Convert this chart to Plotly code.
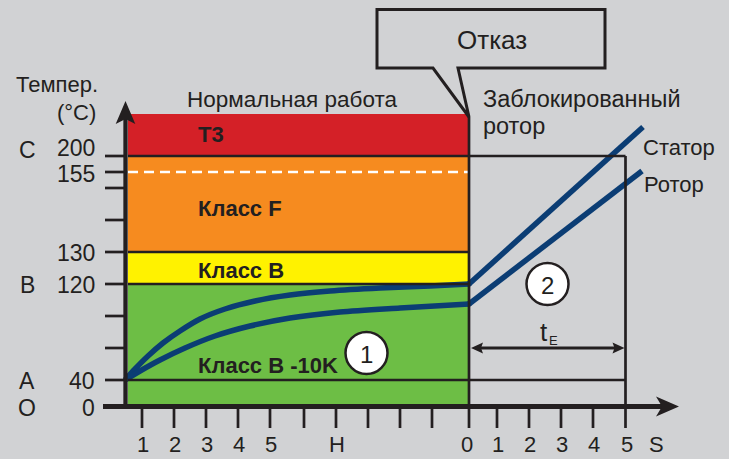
import plotly.graph_objects as go

# ---------------- data ----------------
# Temperature scale (nonlinear schematic scale): label -> vertical position on the scale
temp_labels = ["0", "40", "120", "130", "155", "200"]
temp_scale_y = [406.5, 380, 284, 252, 172, 156]
temp_label_y = [408, 381, 285, 253, 174, 148]
minor_tick_y = [188, 220, 316, 348]
class_letters = ["O", "A", "B", "C"]
class_letter_y = [408, 381, 285, 150]

# Time axis: normal operation (hours) and locked rotor (seconds)
hour_tick_x = [142, 174, 206, 238, 270, 304, 336, 368, 400, 432]
hour_labels = ["1", "2", "3", "4", "5", "", "H", "", "", ""]
sec_tick_x = [469, 497, 529, 561, 593, 625.5]
sec_labels = ["0", "1", "2", "3", "4", "5"]

# Insulation class bands (top, bottom on the scale)
band_names = ["T3", "Класс F", "Класс B", "Класс B -10K"]
band_top = [114, 156, 252, 284]
band_bottom = [156, 252, 284, 406.5]
band_colors = ["#d42027", "#f68b1f", "#fff200", "#6dbe45"]
band_label_y = [134, 208, 270, 365]

# Temperature curves: normal operation (stator, rotor)
stator_norm_x = [125, 135, 148, 163, 180, 200, 225, 255, 290, 330, 380, 430, 469]
stator_norm_y = [380, 369, 356, 343, 331, 319, 309, 301, 295, 291, 288, 286, 284]
rotor_norm_x = [125, 140, 160, 185, 215, 250, 290, 340, 400, 469]
rotor_norm_y = [380, 371, 360, 348, 336, 326, 318, 312, 308, 304]
# Temperature curves: locked rotor (stator, rotor)
stator_lock_x = [469, 643]
stator_lock_y = [284, 127]
rotor_lock_x = [469, 642]
rotor_lock_y = [304, 171]

BG = "#d1d2d4"
INK = "#231f20"
BLUE = "#0b3d74"
FONT = "Liberation Sans"

fig = go.Figure()
shapes = []
ann = []

X0 = 128          # left edge of bands (right of the axis line)
XF = 469          # fault moment
XE = 625.5        # end of locked-rotor time tE
AXIS_X = 125.5
AXIS_Y = 406.5

# bands
for top, bot, col in zip(band_top, band_bottom, band_colors):
    shapes.append(dict(type="rect", x0=X0, x1=XF, y0=top, y1=bot,
                       fillcolor=col, line=dict(width=0), layer="below"))

# dashed 155 line
shapes.append(dict(type="line", x0=X0, x1=XF - 1, y0=temp_scale_y[4], y1=temp_scale_y[4],
                   line=dict(color="white", width=2.5, dash="10px,6px")))

# horizontal level lines
for lab, y in zip(temp_labels, temp_scale_y):
    if lab in ("120", "130"):
        shapes.append(dict(type="line", x0=X0, x1=XF, y0=y, y1=y, line=dict(color=INK, width=2.5)))
    if lab in ("200", "40"):
        shapes.append(dict(type="line", x0=X0, x1=XE, y0=y, y1=y, line=dict(color=INK, width=2.5)))

# y ticks
for y in temp_scale_y[1:] + minor_tick_y:
    shapes.append(dict(type="line", x0=105, x1=AXIS_X, y0=y, y1=y, line=dict(color=INK, width=2.7)))

# x ticks
for x in hour_tick_x + sec_tick_x[1:-1]:
    shapes.append(dict(type="line", x0=x, x1=x, y0=AXIS_Y, y1=428, line=dict(color=INK, width=2.7)))

# verticals at fault and at tE end
shapes.append(dict(type="line", x0=XF, x1=XF, y0=117, y1=428, line=dict(color=INK, width=2.7)))
shapes.append(dict(type="line", x0=XE, x1=XE, y0=band_top[1], y1=428, line=dict(color=INK, width=2.7)))

# axes
shapes.append(dict(type="line", x0=AXIS_X, x1=AXIS_X, y0=409, y1=118, line=dict(color=INK, width=4.3)))
shapes.append(dict(type="path", path="M125.5,101 L115.7,124 L125.5,119 L135.3,124 Z",
                   fillcolor=INK, line=dict(width=0)))
shapes.append(dict(type="line", x0=103, x1=664, y0=AXIS_Y, y1=AXIS_Y, line=dict(color=INK, width=4.8)))
shapes.append(dict(type="path", path="M679,406.5 L656,396.5 L662,406.5 L656,416.5 Z",
                   fillcolor=INK, line=dict(width=0)))

# tE double arrow
shapes.append(dict(type="line", x0=478, x1=617, y0=348, y1=348, line=dict(color=INK, width=3)))
shapes.append(dict(type="path", path="M471,348 L483,342.5 L481,348 L483,353.5 Z",
                   fillcolor=INK, line=dict(width=0)))
shapes.append(dict(type="path", path="M624.5,348 L612.5,342.5 L614.5,348 L612.5,353.5 Z",
                   fillcolor=INK, line=dict(width=0)))

# circles
shapes.append(dict(type="circle", x0=345.5, x1=387.5, y0=332, y1=374,
                   fillcolor="white", line=dict(color=INK, width=2.5)))
shapes.append(dict(type="circle", x0=526.5, x1=568.5, y0=263, y1=305,
                   fillcolor="white", line=dict(color=INK, width=2.5)))

# callout box "Отказ"
shapes.append(dict(type="path",
                   path="M377,9.5 L605,9.5 L605,68 L458,68 L469,117 L433,68 L377,68 Z",
                   fillcolor=BG, line=dict(color=INK, width=3)))

# curves
for xs, ys, nm in [(stator_norm_x, stator_norm_y, "Статор"), (rotor_norm_x, rotor_norm_y, "Ротор")]:
    fig.add_trace(go.Scatter(x=xs, y=ys, mode="lines", name=nm,
                             line=dict(color=BLUE, width=5.5, shape="spline", smoothing=0.8),
                             hoverinfo="skip"))
for xs, ys, nm in [(stator_lock_x, stator_lock_y, "Статор"), (rotor_lock_x, rotor_lock_y, "Ротор")]:
    fig.add_trace(go.Scatter(x=xs, y=ys, mode="lines", name=nm,
                             line=dict(color=BLUE, width=5.5), hoverinfo="skip"))
# round joints at the fault moment
fig.add_trace(go.Scatter(x=[stator_lock_x[0], rotor_lock_x[0]], y=[stator_lock_y[0], rotor_lock_y[0]],
                         mode="markers", marker=dict(color=BLUE, size=5.5, line=dict(width=0)),
                         hoverinfo="skip"))

def text(x, y, s, size, xanchor="center", bold=False, color=INK):
    ann.append(dict(x=x, y=y, text=("<b>%s</b>" % s) if bold else s, showarrow=False,
                    xanchor=xanchor, yanchor="middle",
                    font=dict(family=FONT, size=size, color=color)))

# tick labels
for lab, y in zip(temp_labels, temp_label_y):
    text(97, y, lab, 23, xanchor="right")
for lab, y in zip(class_letters, class_letter_y):
    text(27, y, lab, 23)
for lab, x in zip(hour_labels, hour_tick_x):
    if lab:
        text(x + 1, 444, lab, 22)
for lab, x in zip(sec_labels, sec_tick_x):
    text(x - 2 if lab == "0" else x + 1, 444, lab, 22)
text(656, 444, "S", 22)

# axis titles
text(14, 84, "Темпер.", 22, xanchor="left")
text(98, 112, "(°C)", 22, xanchor="right")

# region texts
text(292, 99, "Нормальная работа", 22.5)
text(481, 99, "Заблокированный", 23.5, xanchor="left")
text(481, 126, "ротор", 23.5, xanchor="left")
text(492, 40, "Отказ", 26)
text(641, 147, "Статор", 22, xanchor="left")
text(642, 184, "Ротор", 22, xanchor="left")

# band labels
for name, y in zip(band_names, band_label_y):
    text(196, y, name, 22, xanchor="left", bold=True)

# circle numbers, tE
text(366.5, 354, "1", 24)
text(547.5, 285, "2", 24)
text(544, 332, "t", 26)
text(553.5, 340, "E", 13)

fig.update_layout(
    width=729, height=459,
    margin=dict(l=0, r=0, t=0, b=0),
    paper_bgcolor=BG, plot_bgcolor=BG,
    showlegend=False,
    xaxis=dict(range=[0, 729], visible=False, fixedrange=True),
    yaxis=dict(range=[459, 0], visible=False, fixedrange=True),
    shapes=shapes, annotations=ann,
)

fig.write_html(
    "out.html",
    config={"displayModeBar": False},
    post_script="document.body.style.margin='0';document.body.style.overflow='hidden';"
                "document.body.style.background='#d1d2d4';",
)
